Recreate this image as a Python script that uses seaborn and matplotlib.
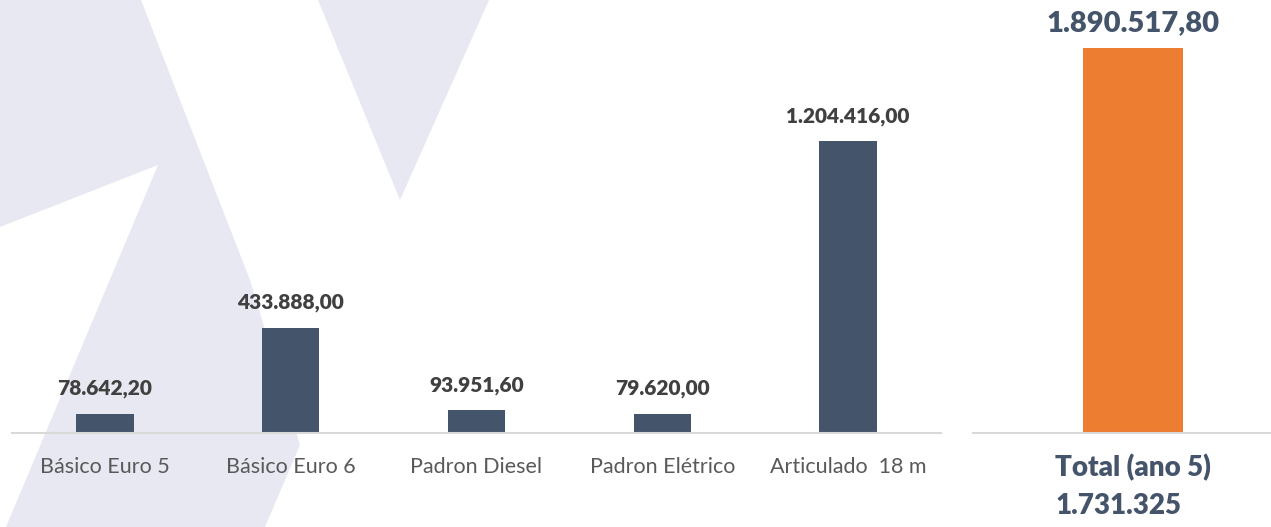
import matplotlib
matplotlib.use('Agg')
import matplotlib.pyplot as plt
import seaborn as sns
import pandas as pd
from matplotlib.patches import Polygon

# Chart data
categories = ['Básico Euro 5', 'Básico Euro 6', 'Padron Diesel', 'Padron Elétrico', 'Articulado  18 m']
values = [78642.20, 433888.00, 93951.60, 79620.00, 1204416.00]
total_label = ['Total (ano 5)\n1.731.325']
total_value = [1890517.80]

BAR_BLUE = '#44546A'
BAR_ORANGE = '#ED7D31'
AXIS_GRAY = '#D9D9D9'
W, H = 1271, 527


def fmt_br(v):
    """Format number the Brazilian way: 1.234.567,89"""
    s = f"{v:,.2f}"
    return s.replace(',', 'X').replace('.', ',').replace('X', '.')


def px_box(x0, y0, x1, y1):
    """Convert pixel box (top-left origin) to figure fraction rect"""
    return [x0 / W, 1 - y1 / H, (x1 - x0) / W, (y1 - y0) / H]


def px_poly(points):
    return [(x / W, 1 - y / H) for x, y in points]


sns.set_theme(style='white')
plt.rcParams['font.family'] = ['Lato', 'DejaVu Sans']

fig = plt.figure(figsize=(W / 100, H / 100), dpi=100)
fig.patch.set_facecolor('white')

# Light background logo shapes
shape_color = '#E8E8F3'
fig.add_artist(Polygon(px_poly([(0, 0), (141, 0), (250, 280), (300, 445), (265, 527),
                                (6, 527), (158, 165), (0, 227)]),
                       closed=True, transform=fig.transFigure, facecolor=shape_color,
                       edgecolor='none', zorder=0))
fig.add_artist(Polygon(px_poly([(318, 0), (489, 0), (400, 200)]),
                       closed=True, transform=fig.transFigure, facecolor=shape_color,
                       edgecolor='none', zorder=0))

# Left chart: costs per vehicle type
ax = fig.add_axes(px_box(12, 20, 941, 433))
df = pd.DataFrame({'categoria': categories, 'valor': values})
sns.barplot(data=df, x='categoria', y='valor', color=BAR_BLUE, saturation=1,
            width=0.31, linewidth=0, ax=ax)
ax.set_ylim(0, 413 * 4128)
ax.set_xlim(-0.5, 4.5)
for i, v in enumerate(values):
    ax.annotate(fmt_br(v), (i, v), xytext=(0, 18), textcoords='offset points',
                ha='center', va='center', fontsize=15, fontweight='heavy', color='#404040')

# Right chart: total
ax2 = fig.add_axes(px_box(973, 20, 1293, 433))
df2 = pd.DataFrame({'categoria': total_label, 'valor': total_value})
sns.barplot(data=df2, x='categoria', y='valor', color=BAR_ORANGE, saturation=1,
            width=0.31, linewidth=0, ax=ax2)
ax2.set_ylim(0, 413 * 4910)
ax2.set_xlim(-0.5, 0.5)
ax2.annotate(fmt_br(total_value[0]), (0, total_value[0]), xytext=(0, 18),
             textcoords='offset points', ha='center', va='center',
             fontsize=21, fontweight='heavy', color=BAR_BLUE)

for a in (ax, ax2):
    a.patch.set_alpha(0)
    a.set_xlabel('')
    a.set_ylabel('')
    a.set_yticks([])
    for side in ('top', 'right', 'left'):
        a.spines[side].set_visible(False)
    a.spines['bottom'].set_color(AXIS_GRAY)
    a.spines['bottom'].set_linewidth(1.5)
    a.tick_params(axis='x', length=0)

ax.tick_params(axis='x', pad=17, labelsize=15.5, labelcolor='#595959')
ax2.tick_params(axis='x', pad=15, labelsize=20, labelcolor=BAR_BLUE)
for lbl in ax2.get_xticklabels():
    lbl.set_fontweight('heavy')
    lbl.set_multialignment('left')
    lbl.set_linespacing(1.55)

fig.savefig('out.png', dpi=100)
